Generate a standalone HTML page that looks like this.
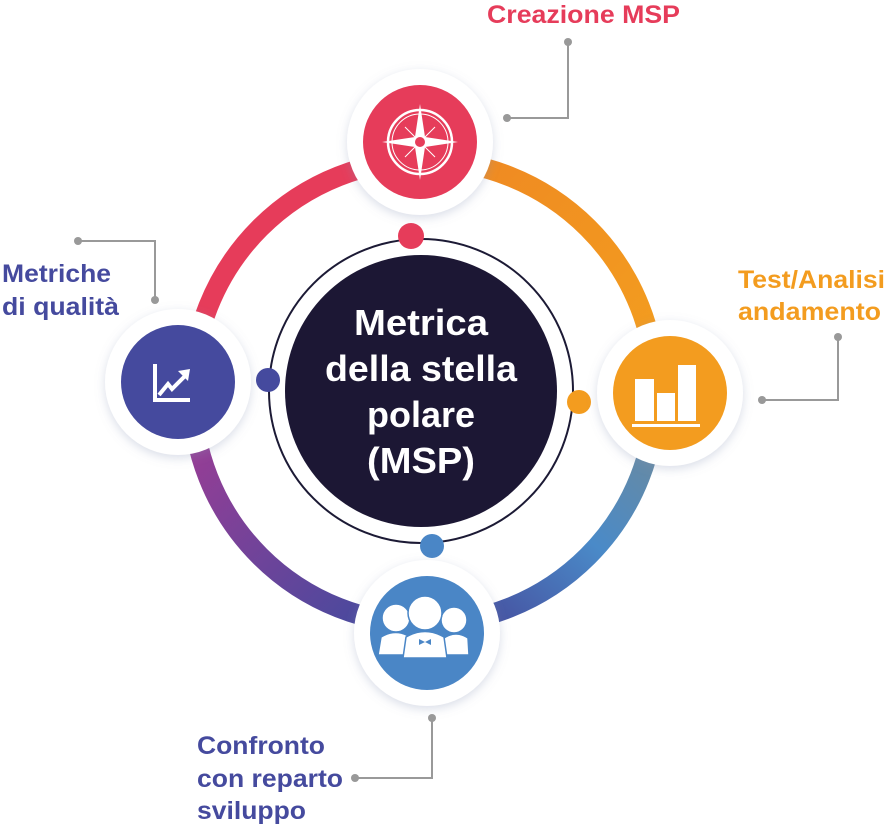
<!DOCTYPE html>
<html><head><meta charset="utf-8"><style>
html,body{margin:0;padding:0;background:#fff;}
svg{display:block;}
text{font-family:"Liberation Sans",Arial,sans-serif;font-weight:bold;}
</style></head><body>
<svg width="887" height="830" viewBox="0 0 887 830" xmlns="http://www.w3.org/2000/svg">
<defs>
<linearGradient id="gRB" gradientUnits="userSpaceOnUse" x1="656" y1="420" x2="480" y2="624"><stop offset="0" stop-color="#6e8a9a"/><stop offset="0.5" stop-color="#4a8ac8"/><stop offset="1" stop-color="#464e9e"/></linearGradient>
<linearGradient id="gBL" gradientUnits="userSpaceOnUse" x1="380" y1="624" x2="192" y2="440"><stop offset="0" stop-color="#454a9e"/><stop offset="1" stop-color="#983d95"/></linearGradient>
<linearGradient id="gTR" gradientUnits="userSpaceOnUse" x1="480" y1="160" x2="656" y2="330"><stop offset="0" stop-color="#ef8a22"/><stop offset="1" stop-color="#f39c1f"/></linearGradient>
<filter id="sh" x="-30%" y="-30%" width="160%" height="160%"><feDropShadow dx="0" dy="3" stdDeviation="5" flood-color="#8090b0" flood-opacity="0.3"/></filter>
</defs>
<path d="M192 392 A232 232 0 0 1 424 160" fill="none" stroke="#e63c5a" stroke-width="20"/>
<path d="M424 160 A232 232 0 0 1 656 392" fill="none" stroke="url(#gTR)" stroke-width="20"/>
<path d="M656 392 A232 232 0 0 1 424 624" fill="none" stroke="url(#gRB)" stroke-width="20"/>
<path d="M424 624 A232 232 0 0 1 192 392" fill="none" stroke="url(#gBL)" stroke-width="20"/>
<circle cx="421" cy="391" r="152" fill="#fff" stroke="#1c1a35" stroke-width="2"/>
<circle cx="421" cy="391" r="136" fill="#1c1734"/>
<g fill="#fff" font-size="36" text-anchor="middle">
<text x="421" y="335" textLength="134" lengthAdjust="spacingAndGlyphs">Metrica</text>
<text x="421" y="381" textLength="192" lengthAdjust="spacingAndGlyphs">della stella</text>
<text x="421" y="427" textLength="108" lengthAdjust="spacingAndGlyphs">polare</text>
<text x="421" y="473" textLength="108" lengthAdjust="spacingAndGlyphs">(MSP)</text>
</g>
<circle cx="411" cy="236" r="13" fill="#e63c5a"/>
<circle cx="268" cy="380" r="12" fill="#454a9e"/>
<circle cx="579" cy="402" r="12" fill="#f39c1f"/>
<circle cx="432" cy="546" r="12" fill="#4a86c6"/>
<circle cx="420" cy="142" r="73" fill="#fff" filter="url(#sh)"/>
<circle cx="420" cy="142" r="57" fill="#e63c5a"/>
<circle cx="178" cy="382" r="73" fill="#fff" filter="url(#sh)"/>
<circle cx="178" cy="382" r="57" fill="#454a9e"/>
<circle cx="670" cy="393" r="73" fill="#fff" filter="url(#sh)"/>
<circle cx="670" cy="393" r="57" fill="#f39c1f"/>
<circle cx="427" cy="633" r="73" fill="#fff" filter="url(#sh)"/>
<circle cx="427" cy="633" r="57" fill="#4a86c6"/>
<g fill="none" stroke="#fff">
<circle cx="420" cy="142" r="32" stroke-width="2.5"/>
<circle cx="420" cy="142" r="28" stroke-width="1"/>
<circle cx="420" cy="142" r="6" stroke-width="1.5"/>
<path d="M405 127 L435 157 M435 127 L405 157" stroke-width="1"/>
</g>
<path d="M420 104 L425 137 L458 142 L425 147 L420 180 L415 147 L382 142 L415 137 Z" fill="#fff"/>
<circle cx="420" cy="142" r="5" fill="#e63c5a"/>
<g stroke="#fff" fill="none" stroke-width="4">
<path d="M155 364 L155 400 L190 400"/>
<path d="M159 395 L168 384 L172 389 L186 375"/>
</g>
<path d="M178 371 L190 369 L188 381 Z" fill="#fff"/>
<g fill="#fff">
<rect x="635" y="379" width="19" height="42"/>
<rect x="657" y="393" width="18" height="28"/>
<rect x="678" y="365" width="18" height="56"/>
<rect x="632" y="424" width="68" height="3"/>
</g>
<g fill="#fff" stroke="#4a86c6" stroke-width="1.5">
<circle cx="396" cy="618" r="14"/>
<path d="M378 655 L381 637 Q396 628 410 637 L412 655 Z"/>
<circle cx="454" cy="620" r="13"/>
<path d="M442 655 L444 638 Q456 630 468 638 L469 655 Z"/>
<circle cx="425" cy="613" r="17"/>
<path d="M403 658 L406 637 Q425 626 444 637 L447 658 Z"/>
</g>
<path d="M419 639 L425 642 L431 639 L431 645 L425 642 L419 645 Z" fill="#4a86c6"/>
<g stroke="#999" stroke-width="2" fill="none">
<path d="M568 42 L568 118 L507 118"/>
<path d="M838 337 L838 400 L762 400"/>
<path d="M78 241 L155 241 L155 300"/>
<path d="M432 718 L432 778 L355 778"/>
</g>
<g fill="#999">
<circle cx="568" cy="42" r="4"/><circle cx="507" cy="118" r="4"/>
<circle cx="838" cy="337" r="4"/><circle cx="762" cy="400" r="4"/>
<circle cx="78" cy="241" r="4"/><circle cx="155" cy="300" r="4"/>
<circle cx="432" cy="718" r="4"/><circle cx="355" cy="778" r="4"/>
</g>
<text x="487" y="23" font-size="25" fill="#e63c5a" textLength="193" lengthAdjust="spacingAndGlyphs">Creazione MSP</text>
<g font-size="25" fill="#f39c1f">
<text x="738" y="288" textLength="147" lengthAdjust="spacingAndGlyphs">Test/Analisi</text>
<text x="738" y="320" textLength="143" lengthAdjust="spacingAndGlyphs">andamento</text>
</g>
<g font-size="25" fill="#454a9e">
<text x="2" y="282" textLength="109" lengthAdjust="spacingAndGlyphs">Metriche</text>
<text x="2" y="315" textLength="117" lengthAdjust="spacingAndGlyphs">di qualità</text>
<text x="197" y="754" textLength="128" lengthAdjust="spacingAndGlyphs">Confronto</text>
<text x="197" y="787" textLength="146" lengthAdjust="spacingAndGlyphs">con reparto</text>
<text x="197" y="819" textLength="109" lengthAdjust="spacingAndGlyphs">sviluppo</text>
</g>
</svg>
</body></html>
